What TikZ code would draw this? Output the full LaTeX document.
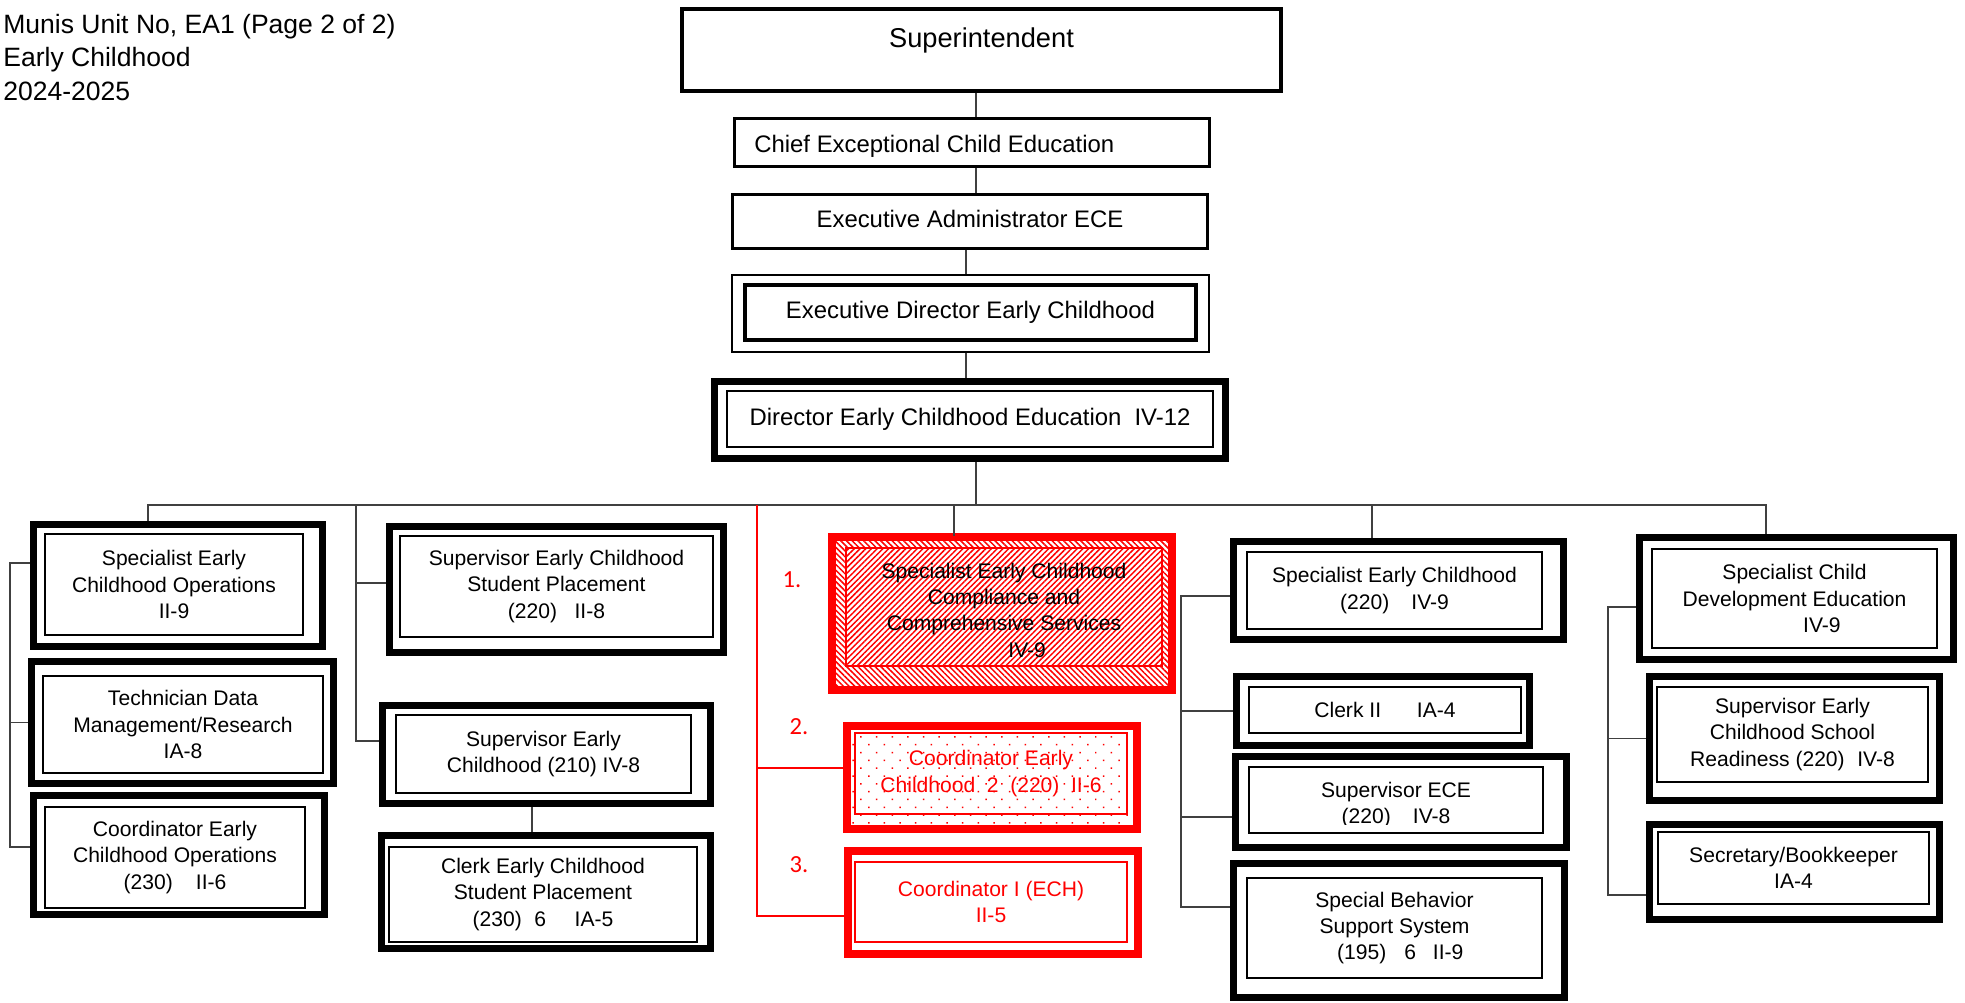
\documentclass[tikz,border=0pt]{standalone}
\usepackage{fontspec}
\setmainfont{Liberation Sans}
\newfontfamily\numfont{Carlito}
\usepackage{tikz}
\usetikzlibrary{
  fit,
  patterns.meta
}
\newcommand\boxfont{\fontsize{12}{15}\selectfont}
\newcommand\topfont{\fontsize{13.6}{16.3}\selectfont}
\newcommand\headfont{\fontsize{15.1}{19.1}\selectfont}
\tikzstyle{link}=[draw=black!75, line width=0.85pt]
\tikzstyle{redlink}=[draw=red, line width=0.6pt]
\tikzstyle{outerbox}=[draw, line width=4pt, inner sep=0pt]
\tikzstyle{innerbox}=[draw, line width=0.7pt, inner sep=0pt]
\tikzstyle{redouter}=[draw=red, line width=4.5pt, inner sep=0pt]
\tikzstyle{redinner}=[draw=red, line width=0.7pt, inner sep=0pt]
\tikzstyle{boxtext}=[inner sep=0pt, align=center, font=\boxfont]
\tikzstyle{hatchNW}=[pattern={Lines[angle=-45, distance=2.3pt, line width=0.85pt]}, pattern color=red]
\tikzstyle{hatchNE}=[pattern={Lines[angle=45, distance=2.3pt, line width=0.85pt]}, pattern color=red]
\tikzstyle{dotted red}=[pattern={Dots[distance=6.3pt, angle=45, radius=0.6pt]}, pattern color=red]
\tikzstyle{numlabel}=[text=red, font={\numfont\fontsize{14}{16}\selectfont}, inner sep=0pt]

\begin{document}
\begin{tikzpicture}[x=0.02cm, y=-0.02cm]
    \useasboundingbox (0,0) rectangle (1965,1003);

    % 見出し
    \node[anchor=north west, inner sep=0pt, align=left, font=\headfont] (title) at (3,13.5)
      {Munis Unit No, EA1 (Page 2 of 2)\\Early Childhood\\2024-2025};

    % 上の系列
    \node[draw, line width=2pt, inner sep=0pt, fit={(682,9) (1281,91)},
      label={[name=superText, anchor=base, yshift=-0.8cm, font=\fontsize{15.5}{18}\selectfont]north:Superintendent}] (super) {};
    \node[draw, line width=1.7pt, inner sep=0pt, fit={(734.5,118.5) (1209.5,166.5)},
      label={[boxtext, anchor=west, xshift=0.42cm, yshift=-0.08cm, font=\topfont]west:Chief Exceptional Child Education}] (chief) {};
    \node[draw, line width=1.7pt, inner sep=0pt, fit={(732.5,194.5) (1207.5,248.5)},
      label={[boxtext, yshift=0.05cm, font=\topfont]center:Executive Administrator ECE}] (execAdmin) {};
    \node[draw, line width=0.9pt, inner sep=0pt, fit={(732,275) (1209,352)}] (execDir) {};
    \node[draw, line width=2pt, inner sep=0pt, fit={(745,285) (1196,340)},
      label={[boxtext, font=\topfont]center:Executive Director Early Childhood}] (execDirIn) {};
    \node[outerbox, fit={(714.5,381.5) (1225.5,458.5)}] (director) {};
    \node[innerbox, fit={(727,391) (1213,447)},
      label={[boxtext, font=\topfont]center:Director Early Childhood Education\hspace{0.55em}IV-12}] (directorIn) {};

    % 左の列
    \node[outerbox, fit={(33.5,524.5) (322.5,646.5)}] (spOps) {};
    \node[innerbox, fit={(45,534) (303,635)},
      label={[boxtext]center:Specialist Early\\Childhood Operations\\II-9}] (spOpsIn) {};
    \node[outerbox, fit={(31.5,661.5) (333.5,783.5)}] (techData) {};
    \node[innerbox, fit={(43,676) (323,773)},
      label={[boxtext]center:Technician Data\\Management/Research\\IA-8}] (techDataIn) {};
    \node[outerbox, fit={(33.5,795.5) (324.5,914.5)}] (coordOps) {};
    \node[innerbox, fit={(45,807) (305,908)},
      label={[boxtext]center:Coordinator Early\\Childhood Operations\\(230)\hspace{1.1em}II-6}] (coordOpsIn) {};

    % 二番目の列
    \node[outerbox, fit={(389.5,526.5) (723.5,652.5)}] (supPlace) {};
    \node[innerbox, fit={(400,536) (713,637)},
      label={[boxtext]center:Supervisor Early Childhood\\Student Placement\\(220)\hspace{0.83em}II-8}] (supPlaceIn) {};
    \node[outerbox, fit={(382.5,705.5) (710.5,803.5)}] (sup210) {};
    \node[innerbox, fit={(396,715) (691,793)},
      label={[boxtext]center:Supervisor Early\\Childhood (210) IV-8}] (sup210In) {};
    \node[outerbox, fit={(381.5,835.5) (710.5,948.5)}] (clerkPlace) {};
    \node[innerbox, fit={(389,847) (697,942)},
      label={[boxtext]center:Clerk Early Childhood\\Student Placement\\(230)\hspace{0.6em}6\hspace{1.35em}IA-5}] (clerkPlaceIn) {};

    % 赤い枠
    \node[redouter, hatchNW, fit={(832,537) (1172,690)}] (specComp) {};
    \node[redinner, fit={(846,548) (1162,666)}, fill=white, postaction={hatchNE},
      label={[boxtext, yshift=-0.06cm]center:Specialist Early Childhood\\Compliance and\\Comprehensive Services\\\hspace*{2.2em}IV-9}] (specCompIn) {};
    \node[redouter, dotted red, fit={(847,726) (1137,829)}] (coord2) {};
    \node[redinner, fit={(855,733) (1127,814)},
      label={[boxtext, text=red]center:Coordinator Early\\Childhood\hspace{0.55em}2\hspace{0.55em}(220)\hspace{0.55em}II-6}] (coord2In) {};
    \node[redouter, fit={(848,851) (1138,954)}] (coordI) {};
    \node[redinner, fit={(855,862) (1127,942)},
      label={[boxtext, text=red]center:Coordinator I (ECH)\\II-5}] (coordIIn) {};
    \node[numlabel] (num1) at (792,580) {1.};
    \node[numlabel] (num2) at (799,727) {2.};
    \node[numlabel] (num3) at (799,865) {3.};

    % 四番目の列
    \node[outerbox, fit={(1233.5,541.5) (1563.5,639.5)}] (specEC) {};
    \node[innerbox, fit={(1247,552) (1542,629)},
      label={[boxtext]center:Specialist Early Childhood\\(220)\hspace{1.05em}IV-9}] (specECIn) {};
    \node[outerbox, fit={(1236.5,676.5) (1529.5,745.5)}] (clerkII) {};
    \node[innerbox, fit={(1249,687) (1521,733)},
      label={[boxtext]center:Clerk II\hspace{1.7em}IA-4}] (clerkIIIn) {};
    \node[outerbox, fit={(1235.5,756.5) (1566.5,847.5)}] (supECE) {};
    \node[innerbox, fit={(1249,767) (1543,833)}] (supECEIn) {};
    \begin{scope}
      \clip (1249,767) rectangle (1543,824);
      \node[boxtext] (supECEText) at ([yshift=-0.1cm]supECEIn.center)
        {Supervisor ECE\\(220)\hspace{1.05em}IV-8};
    \end{scope}
    \node[outerbox, fit={(1233.5,863.5) (1564.5,997.5)}] (behavior) {};
    \node[innerbox, fit={(1247,878) (1542,978)},
      label={[boxtext]center:Special Behavior\\Support System\\\hspace*{0.55em}(195)\hspace{0.85em}6\hspace{0.8em}II-9}] (behaviorIn) {};

    % 右の列
    \node[outerbox, fit={(1639.5,537.5) (1953.5,659.5)}] (specChild) {};
    \node[innerbox, fit={(1652,549) (1937,648)},
      label={[boxtext]center:Specialist Child\\Development Education\\\hspace*{2.6em}IV-9}] (specChildIn) {};
    \node[outerbox, fit={(1649.5,676.5) (1939.5,800.5)}] (supReady) {};
    \node[innerbox, fit={(1657,687) (1928,782)},
      label={[boxtext]center:Supervisor Early\\Childhood School\\Readiness (220)\hspace{0.6em}IV-8}] (supReadyIn) {};
    \node[outerbox, fit={(1649.5,824.5) (1939.5,919.5)}] (secretary) {};
    \node[innerbox, fit={(1658,832) (1929,904)},
      label={[boxtext]center:Secretary/Bookkeeper\\IA-4}] (secretaryIn) {};

    % 縦のつなぎ線
    \coordinate (axisA) at (976,0);
    \coordinate (axisB) at (966,0);
    \coordinate (bus) at (976,505);
    \draw[link] (super.south -| axisA) -- (chief.north -| axisA);
    \draw[link] (chief.south -| axisA) -- (execAdmin.north -| axisA);
    \draw[link] (execAdmin.south -| axisB) -- (execDir.north -| axisB);
    \draw[link] (execDir.south -| axisB) -- (director.north -| axisB);
    \draw[link] (director.south -| bus) -- (bus);

    % 横のバス
    \coordinate (busL) at (148,505);
    \coordinate (busR) at (1766,505);
    \coordinate (gDrop) at (954,505);
    \coordinate (jDrop) at (1372,505);
    \draw[link] (spOps.north -| busL) -- (busL) -- (busR) -- (specChild.north -| busR);
    \draw[link] (gDrop) -- (specComp.north -| gDrop);
    \draw[link] (jDrop) -- (specEC.north -| jDrop);

    % 左の括弧
    \coordinate (lTop) at (10,563);
    \coordinate (lBot) at (10,847);
    \draw[link] (spOps.west |- lTop) -- (lTop) -- (lBot) -- (coordOps.west |- lBot);
    \draw[link] (lTop |- techData.west) -- (techData.west);

    % 二番目の列の線
    \coordinate (bTop) at (356,505);
    \coordinate (bMid) at (356,583);
    \coordinate (bBot) at (356,741);
    \coordinate (eDrop) at (532,0);
    \draw[link] (bTop) -- (bBot) -- (sup210.west |- bBot);
    \draw[link] (bMid) -- (supPlace.west |- bMid);
    \draw[link] (sup210.south -| eDrop) -- (clerkPlace.north -| eDrop);

    % 赤い線
    \coordinate (rTop) at (757,505);
    \coordinate (rMid) at (757,768);
    \coordinate (rBot) at (757,916);
    \draw[redlink] (rTop) -- (rBot) -- (coordI.west |- rBot);
    \draw[redlink] (rMid) -- (coord2.west |- rMid);

    % 四番目の列の括弧
    \coordinate (gTop) at (1181,596);
    \coordinate (gMid) at (1181,817);
    \coordinate (gBot) at (1181,907);
    \draw[link] (specEC.west |- gTop) -- (gTop) -- (gBot) -- (behavior.west |- gBot);
    \draw[link] (gTop |- clerkII.west) -- (clerkII.west);
    \draw[link] (gMid) -- (supECE.west |- gMid);

    % 右の括弧
    \coordinate (nTop) at (1608,607);
    \coordinate (nBot) at (1608,895);
    \draw[link] (specChild.west |- nTop) -- (nTop) -- (nBot) -- (secretary.west |- nBot);
    \draw[link] (nTop |- supReady.west) -- (supReady.west);
\end{tikzpicture}
\end{document}
